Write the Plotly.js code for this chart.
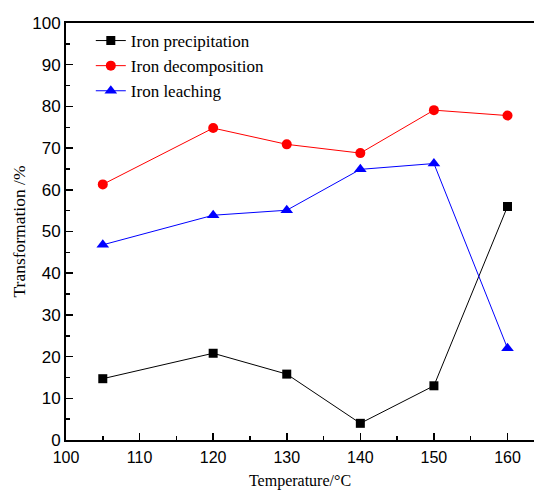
<!DOCTYPE html>
<html><head><meta charset="utf-8">
<script src="https://cdn.plot.ly/plotly-3.0.1.min.js"></script>
<style>html,body{margin:0;padding:0;background:#fff;}#plot{width:534px;height:493px;}</style>
</head><body><div id="plot"></div>
<script>
const temperature = [105, 120, 130, 140, 150, 160];
const ironPrecipitation = [14.7, 20.8, 15.8, 4.0, 13.0, 56.0];
const ironDecomposition = [61.3, 74.8, 70.9, 68.8, 79.1, 77.8];
const ironLeaching = [46.8, 53.9, 55.1, 64.9, 66.3, 22.0];
const seriesNames = ["Iron precipitation", "Iron decomposition", "Iron leaching"];

const traces = [
  {x: temperature, y: ironPrecipitation, name: seriesNames[0], mode: "lines+markers",
   line: {color: "#000000", width: 1}, marker: {symbol: "square", size: 9, color: "#000000"}},
  {x: temperature, y: ironDecomposition, name: seriesNames[1], mode: "lines+markers",
   line: {color: "#ff0000", width: 1}, marker: {symbol: "circle", size: 10, color: "#ff0000"}},
  {x: temperature, y: ironLeaching, name: seriesNames[2], mode: "lines+markers",
   line: {color: "#0000ff", width: 1}, marker: {symbol: "triangle-up", size: 11, color: "#0000ff"}}
];

const layout = {
  width: 534, height: 493,
  margin: {l: 66, r: 0, t: 23, b: 53},
  paper_bgcolor: "#fff", plot_bgcolor: "#fff",
  showlegend: true,
  legend: {x: 0.053, y: 1.0, xanchor: "left", yanchor: "top", bgcolor: "rgba(0,0,0,0)",
    font: {family: "Liberation Serif, Times New Roman, serif", size: 17, color: "#000"},
    tracegroupgap: 0, itemwidth: 30},
  xaxis: {
    range: [100, 163.6], tickmode: "linear", tick0: 100, dtick: 10,
    ticks: "inside", ticklen: 7, tickwidth: 1.5, tickcolor: "#000",
    minor: {dtick: 5, ticks: "inside", ticklen: 4, tickwidth: 1.5, tickcolor: "#000", showgrid: false},
    showline: true, linecolor: "#000", linewidth: 2, mirror: true,
    showgrid: false, zeroline: false, ticklabelstandoff: 2,
    tickfont: {family: "Liberation Sans, Arial, sans-serif", size: 16, color: "#000"},
    title: {text: "Temperature/°C", standoff: 10,
      font: {family: "Liberation Serif, Times New Roman, serif", size: 16, color: "#000"}}
  },
  yaxis: {
    range: [0, 100], tickmode: "linear", tick0: 0, dtick: 10,
    ticks: "inside", ticklen: 7, tickwidth: 1.5, tickcolor: "#000",
    minor: {dtick: 5, ticks: "inside", ticklen: 4, tickwidth: 1.5, tickcolor: "#000", showgrid: false},
    showline: true, linecolor: "#000", linewidth: 2, mirror: false,
    showgrid: false, zeroline: false,
    tickfont: {family: "Liberation Sans, Arial, sans-serif", size: 17, color: "#000"},
    title: {text: "Transformation /%", standoff: 2,
      font: {family: "Liberation Serif, Times New Roman, serif", size: 17.5, color: "#000"}}
  }
};
Plotly.newPlot("plot", traces, layout, {displayModeBar: false, staticPlot: true});
</script></body></html>
